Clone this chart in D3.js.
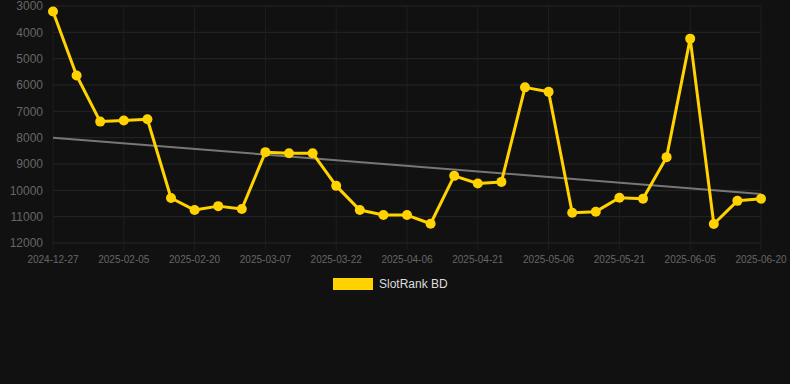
<!DOCTYPE html>
<html>
<head>
<meta charset="utf-8">
<script src="https://cdn.jsdelivr.net/npm/d3@7"></script>
<style>
  html, body { margin: 0; padding: 0; background: #111111; }
  svg { display: block; font-family: "Liberation Sans", Arial, sans-serif; }
</style>
</head>
<body>
<svg id="chart"></svg>
<script>
const width = 790;
const height = 384;

// data
const dates = [
  "2024-12-27", "2025-01-26", "2025-01-31", "2025-02-05", "2025-02-10", "2025-02-15",
  "2025-02-20", "2025-02-25", "2025-03-02", "2025-03-07", "2025-03-12", "2025-03-17",
  "2025-03-22", "2025-03-27", "2025-04-01", "2025-04-06", "2025-04-11", "2025-04-16",
  "2025-04-21", "2025-04-26", "2025-05-01", "2025-05-06", "2025-05-11", "2025-05-16",
  "2025-05-21", "2025-05-26", "2025-05-31", "2025-06-05", "2025-06-10", "2025-06-15",
  "2025-06-20"
];
const ranks = [
  3210, 5640, 7390, 7350, 7300, 10290,
  10750, 10600, 10710, 8550, 8590, 8590,
  9830, 10750, 10940, 10940, 11270, 9450,
  9740, 9680, 6090, 6260, 10850, 10810,
  10280, 10320, 8740, 4240, 11280, 10400,
  10320
];
const yTicks = [3000, 4000, 5000, 6000, 7000, 8000, 9000, 10000, 11000, 12000];
const seriesName = "SlotRank BD";

const margin = { top: 6, right: 29, bottom: 141, left: 53 };
const innerW = width - margin.left - margin.right;
const innerH = height - margin.top - margin.bottom;

const svg = d3.select("#chart")
  .attr("width", width)
  .attr("height", height);

const g = svg.append("g")
  .attr("transform", `translate(${margin.left}, ${margin.top})`);

const x = d3.scalePoint()
  .domain(dates)
  .range([0, innerW]);

// rank axis is reversed: best rank on top
const y = d3.scaleLinear()
  .domain([3000, 12000])
  .range([0, innerH]);

// grid
g.append("g")
  .selectAll("line")
  .data(yTicks)
  .enter()
  .append("line")
  .attr("x1", 0)
  .attr("x2", innerW)
  .attr("y1", d => y(d))
  .attr("y2", d => y(d))
  .attr("stroke", "#262626")
  .attr("stroke-width", 1);

const xTickDates = dates.filter((d, i) => i % 3 === 0);

g.append("g")
  .selectAll("line")
  .data(xTickDates)
  .enter()
  .append("line")
  .attr("x1", d => x(d))
  .attr("x2", d => x(d))
  .attr("y1", 0)
  .attr("y2", innerH + 7)
  .attr("stroke", "#1f1f1f")
  .attr("stroke-width", 1);

// y labels
g.append("g")
  .selectAll("text")
  .data(yTicks)
  .enter()
  .append("text")
  .attr("x", -10)
  .attr("y", d => y(d))
  .attr("dy", "0.35em")
  .attr("text-anchor", "end")
  .style("font-size", "12px")
  .style("fill", "#666")
  .text(d => d);

// x labels
g.append("g")
  .selectAll("text")
  .data(xTickDates)
  .enter()
  .append("text")
  .attr("x", d => x(d))
  .attr("y", innerH + 20)
  .attr("text-anchor", "middle")
  .style("font-size", "10px")
  .style("fill", "#666")
  .text(d => d);

// trend line (least squares over the series)
const n = ranks.length;
const idx = d3.range(n);
const mx = d3.mean(idx);
const my = d3.mean(ranks);
const slope = d3.sum(idx, i => (i - mx) * (ranks[i] - my)) / d3.sum(idx, i => (i - mx) ** 2);
const icpt = my - slope * mx;

g.append("line")
  .attr("x1", x(dates[0]))
  .attr("y1", y(icpt))
  .attr("x2", x(dates[n - 1]))
  .attr("y2", y(icpt + slope * (n - 1)))
  .attr("stroke", "#777")
  .attr("stroke-width", 2);

// series
const line = d3.line()
  .x((d, i) => x(dates[i]))
  .y(d => y(d));

g.append("path")
  .datum(ranks)
  .attr("fill", "none")
  .attr("stroke", "#FFD200")
  .attr("stroke-width", 3)
  .attr("stroke-linejoin", "round")
  .attr("d", line);

g.append("g")
  .selectAll("circle")
  .data(ranks)
  .enter()
  .append("circle")
  .attr("cx", (d, i) => x(dates[i]))
  .attr("cy", d => y(d))
  .attr("r", 5)
  .attr("fill", "#FFD200");

// legend
const legend = svg.append("g")
  .attr("transform", "translate(333, 278)");

legend.append("rect")
  .attr("width", 40)
  .attr("height", 12)
  .attr("fill", "#FFD200");

legend.append("text")
  .attr("x", 46)
  .attr("y", 6)
  .attr("dy", "0.35em")
  .style("font-size", "12px")
  .style("fill", "#ddd")
  .text(seriesName);
</script>
</body>
</html>
